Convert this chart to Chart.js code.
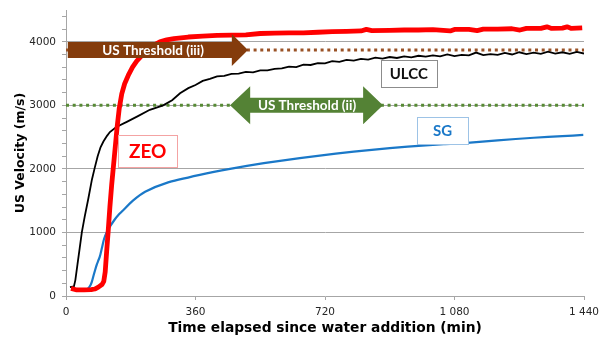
<!DOCTYPE html>
<html>
<head>
<meta charset="utf-8">
<script src="https://cdn.jsdelivr.net/npm/chart.js@4.4.0/dist/chart.umd.min.js"></script>
<style>
  html, body { margin: 0; padding: 0; background: #fff; }
  #wrap { width: 600px; height: 337px; }
</style>
</head>
<body>
<div id="wrap"><canvas id="c" width="600" height="337"></canvas></div>
<script>
// Axis ticks
const xTicks = [0, 360, 720, 1080, 1440];
const xTickLabels = ['0', '360', '720', '1 080', '1 440'];
const yTicks = [0, 1000, 2000, 3000, 4000];
const yTickLabels = ['0', '1000', '2000', '3000', '4000'];

// ZEO (red)
const zeoTime = [14, 30, 50, 70, 80, 90, 100, 105, 109, 113, 117, 122, 127, 132, 137, 142, 148, 155, 163, 173, 185, 197, 210, 225, 242, 261, 280, 300,
  340, 380, 420, 460, 500, 540, 580, 620, 660, 700, 740, 780, 820, 835, 850, 900, 940, 980, 1020, 1068, 1080, 1120, 1143, 1160, 1200, 1240, 1262, 1280, 1320, 1337, 1350, 1380, 1393, 1405, 1435];
const zeoVel = [120, 95, 95, 100, 110, 140, 180, 230, 380, 700, 1000, 1400, 1750, 2050, 2350, 2650, 2950, 3180, 3340, 3470, 3600, 3700, 3780, 3860, 3940, 4000, 4030, 4050,
  4075, 4090, 4100, 4105, 4110, 4130, 4135, 4140, 4140, 4150, 4160, 4165, 4170, 4195, 4175, 4180, 4185, 4185, 4190, 4170, 4195, 4195, 4175, 4200, 4200, 4205, 4185, 4210, 4210, 4235, 4210, 4215, 4235, 4210, 4220];

// ULCC (black)
const ulccTime = [11, 22, 26, 32, 38, 44, 52, 62, 72, 80, 88, 96, 104, 114, 122, 140, 169, 200, 233, 270,
  295, 317, 340, 360, 380, 400, 420, 440, 460, 480, 500, 520, 540, 560, 580, 600, 620, 640, 660, 680, 700, 720, 740, 760, 780, 800,
  820, 840, 860, 880, 900, 920, 940, 960, 980, 1000, 1020, 1040, 1060, 1080, 1100, 1120, 1140, 1160, 1180, 1200, 1220, 1240, 1260,
  1280, 1300, 1320, 1340, 1360, 1380, 1400, 1420, 1440];
const ulccVel = [140, 150, 250, 500, 750, 1000, 1250, 1530, 1830, 2020, 2200, 2340, 2430, 2520, 2580, 2660, 2740, 2830, 2930, 3000,
  3080, 3190, 3270, 3320, 3385, 3415, 3455, 3465, 3495, 3500, 3525, 3520, 3550, 3550, 3575, 3580, 3610, 3600, 3640, 3635, 3665, 3660, 3695, 3685, 3715, 3705,
  3730, 3720, 3750, 3735, 3760, 3745, 3770, 3755, 3780, 3765, 3785, 3770, 3800, 3775, 3795, 3785, 3830, 3790, 3805, 3795, 3825, 3800, 3835,
  3805, 3830, 3810, 3845, 3815, 3835, 3810, 3840, 3815];

// SG (blue)
const sgTime = [17, 25, 40, 55, 62, 68, 72, 77, 81, 86, 90, 94, 100, 106, 113, 122, 135, 145, 159, 186, 220, 280, 372, 456, 550, 650, 750, 850, 950, 1050, 1115, 1200, 1300, 1380, 1438];
const sgVel = [120, 100, 100, 105, 120, 170, 225, 330, 410, 500, 560, 620, 760, 900, 1000, 1090, 1200, 1270, 1350, 1500, 1640, 1780, 1905, 2000, 2090, 2170, 2240, 2300, 2350, 2390, 2410, 2450, 2490, 2515, 2535];

// Thresholds
const thresholdIII = 3870;
const thresholdII = 3000;

const toPts = (t, v) => t.map((x, i) => ({ x, y: v[i] }));

// Annotations anchored in data coordinates (minutes, m/s)
const annotations = {
  arrowIII: { from: 5, base: 461, tip: 506, y: thresholdIII, textX: 242, text: 'US Threshold (iii)', color: '#843C0C', body: 16, head: 32 },
  arrowII: { tipL: 456, baseL: 512, baseR: 826, tipR: 881, y: thresholdII, textX: 670, text: 'US Threshold (ii)', color: '#548235', body: 15, head: 38 },
  boxes: [
    { text: 'ZEO', x: 227, y: 2283, w: 59, h: 32, color: '#ff0000', border: '#f4a3a3', size: 19 },
    { text: 'ULCC', x: 953, y: 3504, w: 56, h: 27, color: '#111111', border: '#8c8c8c', size: 15 },
    { text: 'SG', x: 1047, y: 2606, w: 51, h: 27, color: '#1a78c8', border: '#9dc3e6', size: 15 }
  ]
};

const labelFont = 'Lato, "Open Sans", sans-serif';

const annotationPlugin = {
  id: 'annot',
  afterDatasetsDraw(chart) {
    const { ctx, scales: { x, y } } = chart;
    ctx.save();
    // right-pointing arrow (iii)
    const a = annotations.arrowIII;
    const yc = y.getPixelForValue(a.y);
    const x0 = x.getPixelForValue(a.from), xb = x.getPixelForValue(a.base), xt = x.getPixelForValue(a.tip);
    ctx.fillStyle = a.color;
    ctx.beginPath();
    ctx.moveTo(x0, yc - a.body / 2);
    ctx.lineTo(xb, yc - a.body / 2);
    ctx.lineTo(xb, yc - a.head / 2);
    ctx.lineTo(xt, yc);
    ctx.lineTo(xb, yc + a.head / 2);
    ctx.lineTo(xb, yc + a.body / 2);
    ctx.lineTo(x0, yc + a.body / 2);
    ctx.closePath();
    ctx.fill();
    ctx.fillStyle = '#ffffff';
    ctx.font = 'bold 13.5px ' + labelFont;
    ctx.textAlign = 'center';
    ctx.textBaseline = 'middle';
    ctx.fillText(a.text, x.getPixelForValue(a.textX), yc + 0.5);

    // double arrow (ii)
    const b = annotations.arrowII;
    const yc2 = y.getPixelForValue(b.y);
    const l = x.getPixelForValue(b.tipL), lb = x.getPixelForValue(b.baseL);
    const rb = x.getPixelForValue(b.baseR), r = x.getPixelForValue(b.tipR);
    ctx.fillStyle = b.color;
    ctx.beginPath();
    ctx.moveTo(l, yc2);
    ctx.lineTo(lb, yc2 - b.head / 2);
    ctx.lineTo(lb, yc2 - b.body / 2);
    ctx.lineTo(rb, yc2 - b.body / 2);
    ctx.lineTo(rb, yc2 - b.head / 2);
    ctx.lineTo(r, yc2);
    ctx.lineTo(rb, yc2 + b.head / 2);
    ctx.lineTo(rb, yc2 + b.body / 2);
    ctx.lineTo(lb, yc2 + b.body / 2);
    ctx.lineTo(lb, yc2 + b.head / 2);
    ctx.closePath();
    ctx.fill();
    ctx.fillStyle = '#ffffff';
    ctx.fillText(b.text, x.getPixelForValue(b.textX), yc2 + 0.5);

    // series label boxes
    annotations.boxes.forEach(bx => {
      const cx = x.getPixelForValue(bx.x), cy = y.getPixelForValue(bx.y);
      const L = Math.round(cx - bx.w / 2) + 0.5, T = Math.round(cy - bx.h / 2) + 0.5;
      ctx.fillStyle = '#ffffff';
      ctx.fillRect(L, T, bx.w, bx.h);
      ctx.strokeStyle = bx.border;
      ctx.lineWidth = 1;
      ctx.strokeRect(L, T, bx.w, bx.h);
      ctx.fillStyle = bx.color;
      ctx.font = 'bold ' + bx.size + 'px ' + labelFont;
      ctx.fillText(bx.text, cx, cy + 1);
    });
    ctx.restore();
  }
};

const gridGray = '#a6a6a6';
const axisFont = '"DejaVu Sans", Verdana, sans-serif';

new Chart(document.getElementById('c'), {
  type: 'line',
  data: {
    datasets: [
      { label: 'ZEO', data: toPts(zeoTime, zeoVel), borderColor: '#ff0000', borderWidth: 4.8, pointRadius: 0, tension: 0, order: 1, borderJoinStyle: 'round' },
      { label: 'SG', data: toPts(sgTime, sgVel), borderColor: '#1a78c8', borderWidth: 2.2, pointRadius: 0, tension: 0.2, order: 2 },
      { label: 'ULCC', data: toPts(ulccTime, ulccVel), borderColor: '#000000', borderWidth: 1.8, pointRadius: 0, tension: 0, order: 3 },
      { label: 'US Threshold (iii)', data: [{ x: 0, y: thresholdIII }, { x: 1440, y: thresholdIII }], borderColor: '#9a5226', borderWidth: 3, borderDash: [3, 3.7], pointRadius: 0, order: 4 },
      { label: 'US Threshold (ii)', data: [{ x: 0, y: thresholdII }, { x: 1440, y: thresholdII }], borderColor: '#578a35', borderWidth: 3, borderDash: [3, 3.7], pointRadius: 0, order: 5 }
    ]
  },
  options: {
    responsive: false,
    animation: false,
    devicePixelRatio: 1,
    layout: { padding: { left: 0, right: 16, top: 10, bottom: 0 } },
    plugins: { legend: { display: false }, tooltip: { enabled: false } },
    scales: {
      x: {
        type: 'linear', min: 0, max: 1440,
        afterBuildTicks: s => { s.ticks = xTicks.map(v => ({ value: v })); },
        afterFit: s => { s.height = 41; s.paddingLeft = 0; s.paddingRight = 0; },
        ticks: {
          autoSkip: false, maxRotation: 0, padding: 6,
          color: '#262626', font: { family: axisFont, size: 10.5 },
          callback: v => xTickLabels[xTicks.indexOf(v)]
        },
        grid: { drawOnChartArea: false, tickLength: 4, tickColor: gridGray },
        border: { color: gridGray, width: 1 },
        title: {
          display: true, text: 'Time elapsed since water addition (min)', color: '#000',
          font: { family: axisFont, size: 13.8, weight: 'bold' },
          padding: { top: 0, bottom: 0 }
        }
      },
      y: {
        type: 'linear', min: 0, max: 4500,
        afterBuildTicks: s => {
          const t = [];
          for (let v = 0; v <= 4400; v += 200) t.push({ value: v });
          s.ticks = t;
        },
        afterFit: s => { s.width = 66; s.paddingTop = 0; s.paddingBottom = 0; },
        ticks: {
          autoSkip: false, padding: 6,
          color: '#262626', font: { family: axisFont, size: 10.5 },
          callback: v => { const i = yTicks.indexOf(v); return i >= 0 ? yTickLabels[i] : ''; }
        },
        grid: {
          color: c => (c.tick && c.tick.value % 1000 === 0 && c.tick.value > 0) ? gridGray : 'rgba(0,0,0,0)',
          tickColor: gridGray, tickLength: 4, lineWidth: 1
        },
        border: { color: gridGray, width: 1 },
        title: {
          display: true, text: 'US Velocity (m/s)', color: '#000',
          font: { family: axisFont, size: 12.5, weight: 'bold' },
          padding: { top: 13, bottom: 0 }
        }
      }
    }
  },
  plugins: [annotationPlugin]
});
</script>
</body>
</html>
